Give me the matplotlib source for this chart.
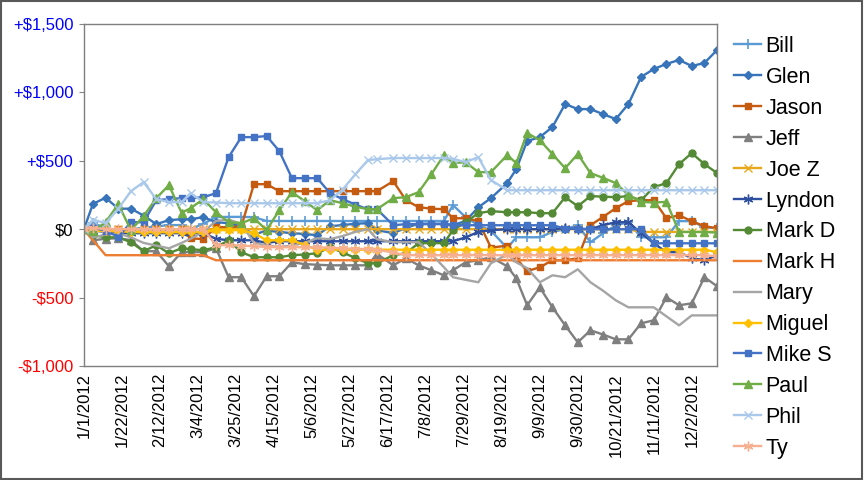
import matplotlib
matplotlib.use('Agg')
import matplotlib.pyplot as plt
import matplotlib.patches as mpatches
import pandas as pd

plt.rcParams['font.family'] = ['Liberation Sans', 'DejaVu Sans']

# --- data (weekly standings, $) ---
dates = ['1/1/2012', '1/6/2012', '1/13/2012', '1/20/2012', '1/27/2012', '2/3/2012',
         '2/10/2012', '2/17/2012', '2/24/2012', '2/29/2012', '3/7/2012', '3/14/2012',
         '3/21/2012', '3/28/2012', '4/4/2012', '4/11/2012', '4/18/2012', '4/25/2012',
         '5/2/2012', '5/9/2012', '5/16/2012', '5/23/2012', '5/30/2012', '6/6/2012',
         '6/11/2012', '6/20/2012', '6/27/2012', '7/4/2012', '7/11/2012', '7/18/2012',
         '7/23/2012', '7/30/2012', '8/6/2012', '8/13/2012', '8/22/2012', '8/27/2012',
         '9/2/2012', '9/9/2012', '9/16/2012', '9/23/2012', '9/30/2012', '10/7/2012',
         '10/14/2012', '10/21/2012', '10/28/2012', '11/4/2012', '11/11/2012', '11/18/2012',
         '11/25/2012', '12/2/2012', '12/9/2012', '12/16/2012']

bill = [0, 44, 10, -10, 0, 10, 20, 30, 30, 0, 40, 88, 90, 90, 88, 60, 60, 60, 60, 60,
        60, 60, 60, 60, 60, 60, 60, 60, 60, 60, 176, 88, 29, -10, -139, -59, -59, -59,
        -20, 0, 29, -95, -30, 29, 51, -59, -59, -59, 59, 59, 15, 7]
glen = [0, 185, 230, 150, 150, 100, 37, 66, 73, 73, 88, 51, 44, 20, -40, -10, -20, -29,
        -35, -44, 22, 30, 40, 44, -7, -29, 10, 40, 40, 40, 30, 60, 160, 227, 337, 439,
        644, 673, 747, 915, 878, 878, 841, 805, 915, 1113, 1171, 1208, 1237, 1193, 1215, 1310]
jason = [0, 0, 0, 0, 0, 0, 0, 0, 0, -66, -73, 15, 15, 20, 329, 329, 278, 278, 278, 278,
         278, 278, 278, 278, 278, 351, 212, 161, 150, 146, 80, 80, 60, -135, -120, -212,
         -307, -278, -227, -227, -212, 29, 90, 154, 205, 212, 212, 80, 102, 58, 22, 7]
jeff = [0, -81, -70, -66, -80, -161, -161, -271, -168, -168, -168, -139, -351, -351, -490,
        -344, -344, -242, -255, -260, -264, -264, -264, -264, -180, -264, -212, -264, -300,
        -337, -300, -242, -227, -205, -271, -359, -556, -425, -571, -703, -827, -739, -770,
        -805, -805, -688, -666, -498, -556, -542, -351, -417]
joe_z = [0, -15, -5, 0, 0, 0, 0, 0, 0, 0, 0, 0, 0, 0, 0, 0, 0, 0, 0, 0, 0, 0, 0, 0, 0, 0,
         0, 0, 0, 0, 0, 0, 0, 0, 0, 0, 0, 0, 0, 0, 0, 0, 0, 0, 0, -20, -20, -20, -20, -20, -20, -20]
lyndon = [0, -10, -20, -29, -29, -29, -29, -29, -29, -29, -29, -70, -81, -81, -81, -100,
          -88, -88, -88, -88, -88, -88, -88, -88, -88, -88, -88, -88, -88, -88, -88, -60,
          -20, -7, 0, 0, 0, 0, 0, 7, 0, 0, 30, 51, 51, -29, -103, -168, -168, -212, -227, -190]
mark_d = [0, -44, -59, -60, -95, -161, -117, -176, -139, -146, -154, -132, -81, -168, -205,
          -205, -205, -190, -185, -176, -132, -170, -210, -249, -249, -190, -176, -102, -102,
          -102, -7, 51, 117, 132, 124, 124, 124, 117, 117, 234, 168, 242, 238, 234, 242, 212,
          307, 337, 476, 556, 476, 410]
mark_h = [0, -80] + [-190] * 9 + [-227] * 41
mary = [0, -60, -40, -30, -60, -100, -120, -140, -100, -70, -20, 60, 70, 40, -100, -120,
        -130, -120, -100, -66, -73, -50, -20, 0, -73, -95, -95, -95, -180, -278, -351, -370,
        -388, -249, -183, -242, -285, -388, -337, -351, -293, -388, -450, -520, -571, -571,
        -571, -637, -703, -630, -630, -630]
miguel = [0, -10, -15, -15, -20, -22, -22, -22, -22, -22, -22, -7, -7, -7, -30, -81, -81,
          -81, -115] + [-150] * 32 + [-168]
mike_s = [0, 10, -10, -57, 51, 51, 212, 220, 227, 227, 234, 263, 527, 673, 673, 681, 571,
          373, 373, 373, 264, 220, 180, 146, 146, 29, 37, 37, 37, 37, 29, 29, 29, 29, 29, 29,
          29, 29, 29, 5, 5, 0, 0, 0, 0, 0, -103, -103, -103, -103, -103, -103]
paul = [0, -15, 51, 183, -7, 95, 227, 322, 120, 154, 220, 124, 51, 44, 80, -7, 139, 271,
        205, 139, 212, 190, 165, 146, 146, 227, 234, 271, 400, 542, 483, 490, 417, 417, 542,
        483, 703, 651, 549, 446, 549, 410, 375, 337, 250, 200, 195, 200, -20, -20, -20, -25]
phil = [0, 70, 44, 150, 278, 344, 220, 198, 198, 264, 198, 195, 190, 190, 190, 190, 190,
        190, 190, 190, 212, 290, 400, 505, 512, 520, 520, 520, 520, 520, 515, 490, 527,
        359] + [285] * 18
ty = [0, 10, 0, 0, 0, 0, 0, 0, 0, 0, 0, -117, -117, -120, -125, -130, -132, -132, -132,
      -132, -135, -140, -143, -146, -150, -170] + [-190] * 25 + [-198]

names = ['Bill', 'Glen', 'Jason', 'Jeff', 'Joe Z', 'Lyndon', 'Mark D', 'Mark H',
         'Mary', 'Miguel', 'Mike S', 'Paul', 'Phil', 'Ty']
series = [bill, glen, jason, jeff, joe_z, lyndon, mark_d, mark_h,
          mary, miguel, mike_s, paul, phil, ty]

tick_labels = ['1/1/2012', '1/22/2012', '2/12/2012', '3/4/2012', '3/25/2012', '4/15/2012',
               '5/6/2012', '5/27/2012', '6/17/2012', '7/8/2012', '7/29/2012', '8/19/2012',
               '9/9/2012', '9/30/2012', '10/21/2012', '11/11/2012', '12/2/2012']
y_ticks = [-1000, -500, 0, 500, 1000, 1500]
y_labels = ['-$1,000', '-$500', '$0', '+$500', '+$1,000', '+$1,500']

# --- styles ---
asterisk = (6, 2, 0)
styles = {
    'Bill':   dict(color='#5B9BD5', marker='+', ms=7, mew=1.2),
    'Glen':   dict(color='#3874BA', marker='D', ms=4),
    'Jason':  dict(color='#C55A11', marker='s', ms=5),
    'Jeff':   dict(color='#7F7F7F', marker='^', ms=6),
    'Joe Z':  dict(color='#E8A81C', marker='x', ms=6, mew=1.0),
    'Lyndon': dict(color='#2F4F9F', marker=asterisk, ms=7, mew=1.0),
    'Mark D': dict(color='#548A35', marker='o', ms=5),
    'Mark H': dict(color='#ED7D31', marker=None),
    'Mary':   dict(color='#A5A5A5', marker=None),
    'Miguel': dict(color='#FFC000', marker='D', ms=4),
    'Mike S': dict(color='#4472C4', marker='s', ms=5),
    'Paul':   dict(color='#70AD47', marker='^', ms=6),
    'Phil':   dict(color='#A9C8EA', marker='x', ms=6, mew=1.0),
    'Ty':     dict(color='#F6B08F', marker=asterisk, ms=7, mew=1.0),
}

x = pd.to_datetime(dates, format='%m/%d/%Y')
ticks = pd.to_datetime(tick_labels, format='%m/%d/%Y')

fig = plt.figure(figsize=(8.65, 4.8), dpi=100)
ax = fig.add_axes([0.097, 0.2375, 0.732, 0.7125])

for name, vals in zip(names, series):
    st = styles[name]
    ax.plot(x, vals, label=name, lw=1.7, **st)

ax.set_xlim(x[0], x[-1])
ax.set_ylim(-1000, 1500)

ax.set_xticks(ticks)
ax.set_xticklabels(tick_labels, rotation=90, fontsize=12)
ax.tick_params(axis='x', length=0, pad=5)

ax.set_yticks(y_ticks)
ax.set_yticklabels(y_labels, fontsize=12)
ax.tick_params(axis='y', length=3.5, color='#868686', pad=4)
for lab, v in zip(ax.get_yticklabels(), y_ticks):
    if v > 0:
        lab.set_color('#0000FF')
    elif v < 0:
        lab.set_color('#FF0000')
    else:
        lab.set_color('black')

for sp in ax.spines.values():
    sp.set_color('#7F7F7F')
    sp.set_linewidth(1.0)

ax.legend(loc='upper left', bbox_to_anchor=(0.849, 0.925),
          bbox_transform=fig.transFigure, frameon=False, fontsize=15.5,
          handlelength=1.25, handletextpad=0.2, labelspacing=0.46,
          borderpad=0, borderaxespad=0, numpoints=1)

# outer chart border
fig.patches.append(mpatches.Rectangle((0.001, 0.003), 0.996, 0.994,
                                      transform=fig.transFigure, fill=False,
                                      ec='#595959', lw=1.5))

fig.savefig('out.png', dpi=100)
